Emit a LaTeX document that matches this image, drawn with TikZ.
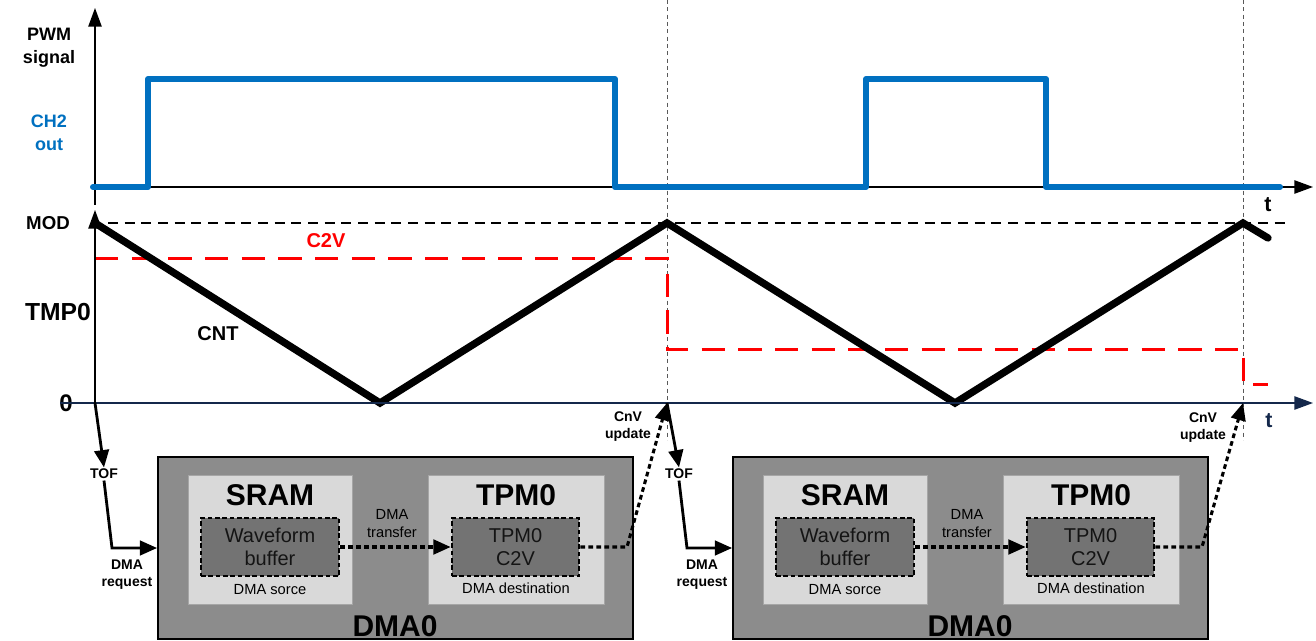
\documentclass[tikz,border=0pt]{standalone}
\usepackage{fontspec}
\setmainfont{Liberation Sans}
\usetikzlibrary{arrows.meta}
\definecolor{pwmblue}{HTML}{0070C0}
\definecolor{c2vred}{HTML}{FF0000}
\definecolor{axisnavy}{HTML}{14284B}
\definecolor{dmagray}{HTML}{8C8C8C}
\definecolor{memgray}{HTML}{D9D9D9}
\definecolor{bufgray}{HTML}{737373}

\begin{document}
\begin{tikzpicture}[x=0.75pt,y=-0.75pt,
lbl/.style={font=\bfseries\fontsize{13.5}{17}\selectfont,align=center,inner sep=1pt},
tag/.style={font=\bfseries\fontsize{10.5}{12.8}\selectfont,align=center,inner sep=1pt},
note/.style={font=\fontsize{11}{13.5}\selectfont,align=center,inner sep=1pt},
title/.style={font=\bfseries\fontsize{22.5}{26}\selectfont,inner sep=0pt},
dmabox/.style={draw=black,line width=1.6pt,fill=dmagray,minimum width=356pt,minimum height=136.5pt},
membox/.style={draw=black!35,line width=0.6pt,fill=memgray,minimum height=96.75pt},
bufbox/.style={draw=black,line width=2pt,dash pattern=on 3.5pt off 2pt,fill=bufgray,minimum height=43.5pt,align=center,text=black!92,font=\fontsize{15}{17.25}\selectfont},
arr/.style={-{Triangle[length=13pt,width=11pt]},line width=2.1pt},
xfer/.style={-{Triangle[length=13pt,width=11pt]},line width=2.3pt,dash pattern=on 3.5pt off 2.5pt},
axis/.style={-{Triangle[length=14pt,width=10pt]},line width=1.1pt},
mark line/.style={draw=black!65,line width=0.7pt,dash pattern=on 3pt off 2.5pt}
]
\useasboundingbox (0,0) rectangle (1316,641);
\draw[mark line] (667,0) -- (667,440);
\draw[mark line] (1243,0) -- (1243,440);
\draw[line width=0.9pt,dash pattern=on 7.5pt off 5pt] (108,223) -- (1290,223);
\draw[c2vred,line width=2.25pt,dash pattern=on 17.5pt off 10pt] (95,259) -- (667,259) -- (667,349) -- (1243,349) -- (1243,384) -- (1268,384);
\draw[line width=5.5pt,line cap=round] (95,223) -- (380,403) -- (667,223) -- (955,403) -- (1243,223) -- (1268,238);
\draw[axis] (95,187) -- (1313,187);
\draw[axis] (95,205) -- (95,8);
\draw[pwmblue,line width=4.5pt,line cap=round,line join=round] (93,187) -- (148,187) -- (148,79) -- (615,79) -- (615,187) -- (866,187) -- (866,79) -- (1046,79) -- (1046,187) -- (1280,187);
\node[lbl] (pwm) at (49,48) {PWM\\signal};
\node[lbl,text=pwmblue] (ch2) at (49,133) {CH2\\out};
\node[lbl,font=\bfseries\fontsize{14}{17}\selectfont] (mod) at (48,223) {MOD};
\node[lbl,font=\bfseries\fontsize{18.5}{22}\selectfont] (tmp) at (58,312) {TMP0};
\node[lbl,font=\bfseries\fontsize{18}{22}\selectfont] (zero) at (66,403) {0};
\node[lbl,font=\bfseries\fontsize{16}{19}\selectfont] (tup) at (1268,205) {t};
\node[lbl,font=\bfseries\fontsize{16}{19}\selectfont,text=axisnavy] (tlow) at (1269,421) {t};
\node[lbl,font=\bfseries\fontsize{15}{18}\selectfont,text=c2vred] (c2vlbl) at (326,241) {C2V};
\node[lbl,font=\bfseries\fontsize{15}{18}\selectfont] (cnt) at (218,334) {CNT};
\draw[axis,draw=axisnavy,fill=axisnavy] (60,403) -- (1313,403);
\draw[axis] (95,403) -- (95,210);
\coordinate (o1) at (95,403);
\coordinate (o2) at (667,403);
\coordinate (o3) at (1243,403);
\coordinate (k1) at (112,548);
\coordinate (k2) at (627,547);
\coordinate (k3) at (687,548);
\coordinate (k4) at (1202,547);
\node[dmabox] (dma1) at (395.5,548) {};
\node[membox,minimum width=123pt] (sram1) at (270,539.5) {};
\node[membox,minimum width=132pt] (tpm1) at (516,539.5) {};
\node[bufbox,minimum width=103.5pt] (wave1) at (270,547) {Waveform\\buffer};
\node[bufbox,minimum width=95.25pt] (c2v1) at (515.5,547) {TPM0\\C2V};
\node[title] (sramt1) at (270,495) {SRAM};
\node[title] (tpmt1) at (516,495) {TPM0};
\node[title] (dmat1) at (395,626) {DMA0};
\node[note] (srct1) at (270,590) {DMA sorce};
\node[note] (dstt1) at (516,588) {DMA destination};
\node[note] (xfert1) at (392,524) {DMA\\transfer};
\node[tag] (tof1) at (104,474) {TOF};
\node[tag] (req1) at (127,575) {DMA\\request};
\node[tag] (cnv1) at (628,427) {CnV\\update};
\node[dmabox] (dma2) at (970.5,548) {};
\node[membox,minimum width=123pt] (sram2) at (845,539.5) {};
\node[membox,minimum width=132pt] (tpm2) at (1091,539.5) {};
\node[bufbox,minimum width=103.5pt] (wave2) at (845,547) {Waveform\\buffer};
\node[bufbox,minimum width=95.25pt] (c2v2) at (1090.5,547) {TPM0\\C2V};
\node[title] (sramt2) at (845,495) {SRAM};
\node[title] (tpmt2) at (1091,495) {TPM0};
\node[title] (dmat2) at (970,626) {DMA0};
\node[note] (srct2) at (845,590) {DMA sorce};
\node[note] (dstt2) at (1091,588) {DMA destination};
\node[note] (xfert2) at (967,524) {DMA\\transfer};
\node[tag] (tof2) at (679,474) {TOF};
\node[tag] (req2) at (702,575) {DMA\\request};
\node[tag] (cnv2) at (1203,428) {CnV\\update};
\draw[arr] (o1) -- (tof1.north);
\draw[arr] (tof1.south) -- (k1) -- (dma1.west);
\draw[xfer] (wave1.east) -- (c2v1.west);
\draw[xfer] (c2v1.east) -- (k2) -- (o2);
\draw[arr] (o2) -- (tof2.north);
\draw[arr] (tof2.south) -- (k3) -- (dma2.west);
\draw[xfer] (wave2.east) -- (c2v2.west);
\draw[xfer] (c2v2.east) -- (k4) -- (o3);
\end{tikzpicture}
\end{document}
